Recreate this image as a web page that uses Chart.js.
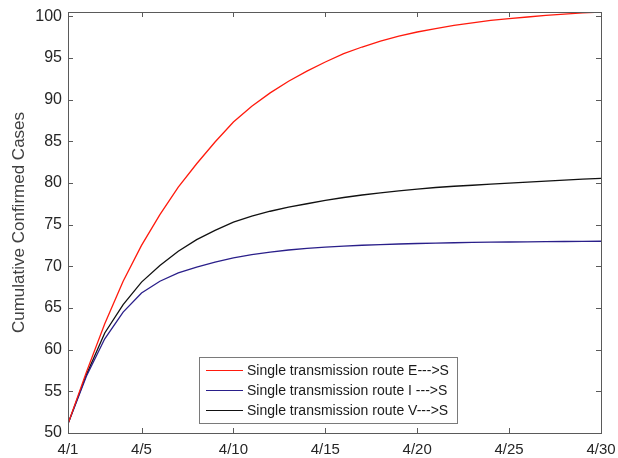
<!DOCTYPE html>
<html>
<head>
<meta charset="utf-8">
<script src="https://cdn.jsdelivr.net/npm/chart.js@4.4.1/dist/chart.umd.min.js"></script>
<style>
  html, body { margin: 0; padding: 0; background: #fff; }
  #wrap { width: 618px; height: 458px; }
</style>
</head>
<body>
<div id="wrap"><canvas id="chart" width="618" height="458"></canvas></div>
<script>
// day of April, 1..30
const days = [1, 2, 3, 4, 5, 6, 7, 8, 9, 10, 11, 12, 13, 14, 15,
              16, 17, 18, 19, 20, 21, 22, 23, 24, 25, 26, 27, 28, 29, 30];

const routeE = [51.1, 57.3, 63.1, 68.2, 72.5, 76.2, 79.5, 82.3, 84.9, 87.3,
                89.2, 90.8, 92.2, 93.4, 94.5, 95.5, 96.3, 97.0, 97.6, 98.1,
                98.5, 98.9, 99.2, 99.5, 99.7, 99.9, 100.1, 100.25, 100.4, 100.5];

const routeI = [51.1, 56.8, 61.3, 64.5, 66.8, 68.2, 69.2, 69.9, 70.5, 71.0,
                71.4, 71.7, 71.95, 72.15, 72.3, 72.42, 72.52, 72.6, 72.67, 72.73,
                72.78, 72.82, 72.86, 72.89, 72.91, 72.93, 72.95, 72.97, 72.99, 73.0];

const routeV = [51.1, 57.0, 62.0, 65.4, 68.1, 70.1, 71.8, 73.2, 74.3, 75.3,
                76.0, 76.6, 77.1, 77.5, 77.9, 78.25, 78.55, 78.8, 79.05, 79.25,
                79.45, 79.6, 79.72, 79.85, 79.97, 80.1, 80.22, 80.33, 80.45, 80.55];

const xTickDays = [1, 5, 10, 15, 20, 25, 30];
const yTickValues = [50, 55, 60, 65, 70, 75, 80, 85, 90, 95, 100];

const seriesLabels = [
    "Single transmission route E--->S",
    "Single transmission route I --->S",
    "Single transmission route V--->S"
];
const seriesColors = ["#ff1a0d", "#2a1f8a", "#111111"];

const FONT = "'Liberation Sans', Arial, Helvetica, sans-serif";

function toPoints(vals) {
    return days.map((d, i) => ({ x: d, y: vals[i] }));
}

// box around the axes with inward ticks on all four sides (matlab look)
const boxPlugin = {
    id: "box",
    afterDraw(chart) {
        const ctx = chart.ctx;
        const a = chart.chartArea;
        const xs = chart.scales.x, ys = chart.scales.y;
        const tl = 5;
        ctx.save();
        ctx.strokeStyle = "#5a5a5a";
        ctx.lineWidth = 1;
        ctx.strokeRect(Math.round(a.left) + 0.5, Math.round(a.top) + 0.5,
                       Math.round(a.right - a.left), Math.round(a.bottom - a.top));
        ctx.beginPath();
        xTickDays.forEach(d => {
            const px = Math.round(xs.getPixelForValue(d)) + 0.5;
            ctx.moveTo(px, a.bottom); ctx.lineTo(px, a.bottom - tl);
            ctx.moveTo(px, a.top); ctx.lineTo(px, a.top + tl);
        });
        yTickValues.forEach(v => {
            const py = Math.round(ys.getPixelForValue(v)) + 0.5;
            ctx.moveTo(a.left, py); ctx.lineTo(a.left + tl, py);
            ctx.moveTo(a.right, py); ctx.lineTo(a.right - tl, py);
        });
        ctx.stroke();
        ctx.restore();
    }
};

// legend box inside the plot, lower middle
const legendPlugin = {
    id: "innerLegend",
    afterDraw(chart) {
        const ctx = chart.ctx;
        const bx = 199, by = 357, bw = 258, bh = 66;
        ctx.save();
        ctx.fillStyle = "#fff";
        ctx.fillRect(bx, by, bw, bh);
        ctx.strokeStyle = "#7a7a7a";
        ctx.lineWidth = 1;
        ctx.strokeRect(bx + 0.5, by + 0.5, bw, bh);
        ctx.font = "14px " + FONT;
        ctx.textBaseline = "middle";
        chart.data.datasets.forEach((ds, i) => {
            const y = by + 13 + i * 20;
            ctx.strokeStyle = ds.borderColor;
            ctx.lineWidth = 1.2;
            ctx.beginPath();
            ctx.moveTo(206, y + 0.5);
            ctx.lineTo(243, y + 0.5);
            ctx.stroke();
            ctx.fillStyle = "#1a1a1a";
            ctx.fillText(ds.label, 247, y + 1);
        });
        ctx.restore();
    }
};

const ctx = document.getElementById("chart").getContext("2d");

new Chart(ctx, {
    type: "line",
    data: {
        datasets: [
            { label: seriesLabels[0], data: toPoints(routeE), borderColor: seriesColors[0] },
            { label: seriesLabels[1], data: toPoints(routeI), borderColor: seriesColors[1] },
            { label: seriesLabels[2], data: toPoints(routeV), borderColor: seriesColors[2] }
        ].map(d => Object.assign(d, {
            borderWidth: 1.3,
            pointRadius: 0,
            tension: 0,
            fill: false
        }))
    },
    options: {
        responsive: false,
        animation: false,
        layout: { padding: { left: 0, right: 17, top: 12, bottom: 0 } },
        plugins: {
            legend: { display: false },
            tooltip: { enabled: false }
        },
        scales: {
            x: {
                type: "linear",
                min: 1,
                max: 30,
                afterBuildTicks(scale) {
                    scale.ticks = xTickDays.map(v => ({ value: v }));
                },
                afterFit(scale) {
                    scale.height = 25;
                    scale.paddingLeft = 0;
                    scale.paddingRight = 0;
                },
                grid: { display: false, drawTicks: false },
                border: { display: false },
                ticks: {
                    padding: 8,
                    maxRotation: 0,
                    color: "#262626",
                    font: { family: FONT, size: 15 },
                    callback: v => "4/" + v
                }
            },
            y: {
                min: 50,
                max: 100.5,
                afterBuildTicks(scale) {
                    scale.ticks = yTickValues.map(v => ({ value: v }));
                },
                afterFit(scale) {
                    scale.width = 68;
                    scale.paddingTop = 0;
                    scale.paddingBottom = 0;
                },
                grid: { display: false, drawTicks: false },
                border: { display: false },
                ticks: {
                    padding: 6,
                    color: "#262626",
                    font: { family: FONT, size: 16 }
                },
                title: {
                    display: true,
                    text: "Cumulative Confirmed Cases",
                    color: "#404040",
                    font: { family: FONT, size: 17 },
                    padding: { top: 9, bottom: 0 }
                }
            }
        }
    },
    plugins: [boxPlugin, legendPlugin]
});
</script>
</body>
</html>
